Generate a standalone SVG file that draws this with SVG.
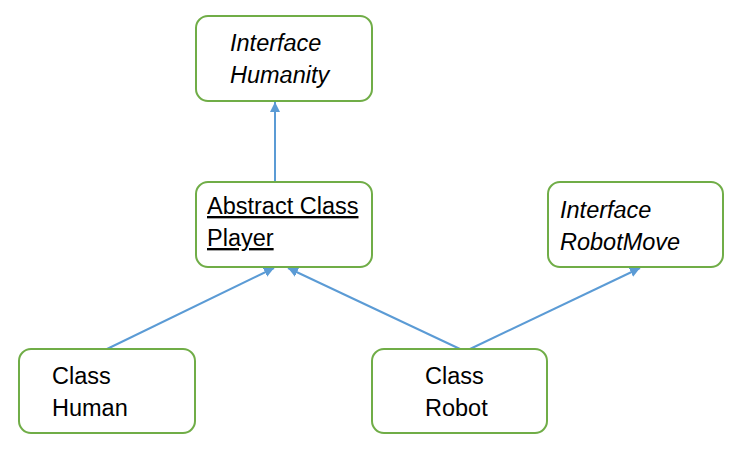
<svg xmlns="http://www.w3.org/2000/svg" width="743" height="452" viewBox="0 0 743 452">
<style>
.box{fill:#fff;stroke:#70AD47;stroke-width:2}
.t{font-family:"Liberation Sans",Arial,sans-serif;font-size:23.5px;fill:#000}
.i{font-style:italic}
.u{text-decoration:underline}
.c{stroke:#5B9BD5;stroke-width:2;fill:none;marker-end:url(#ah)}
</style>
<defs>
<marker id="ah" viewBox="0 0 10 10" refX="10" refY="5" markerWidth="5" markerHeight="5" orient="auto" markerUnits="strokeWidth">
<path d="M0,0 L10,5 L0,10 z" fill="#5B9BD5"/>
</marker>
</defs>
<rect width="743" height="452" fill="#fff"/>
<g id="connectors">
<line class="c" x1="275" y1="182" x2="275" y2="102"/>
<line class="c" x1="107" y1="349" x2="274" y2="268"/>
<line class="c" x1="460" y1="349" x2="288" y2="268"/>
<line class="c" x1="470" y1="349" x2="640" y2="268"/>
</g>
<g id="humanity">
<rect class="box" x="196" y="16" width="176" height="85" rx="12"/>
<text class="t i" x="230" y="51">Interface</text>
<text class="t i" x="230" y="83">Humanity</text>
</g>
<g id="player">
<rect class="box" x="196" y="182" width="176" height="85" rx="12"/>
<text class="t u" x="207" y="214">Abstract Class</text>
<text class="t u" x="207" y="246">Player</text>
</g>
<g id="robotmove">
<rect class="box" x="548" y="182" width="175" height="85" rx="12"/>
<text class="t i" x="560" y="218">Interface</text>
<text class="t i" x="560" y="250">RobotMove</text>
</g>
<g id="human">
<rect class="box" x="19" y="349" width="176" height="84" rx="12"/>
<text class="t" x="52" y="384">Class</text>
<text class="t" x="52" y="416">Human</text>
</g>
<g id="robot">
<rect class="box" x="372" y="349" width="175" height="84" rx="12"/>
<text class="t" x="425" y="384">Class</text>
<text class="t" x="425" y="416">Robot</text>
</g>
</svg>
